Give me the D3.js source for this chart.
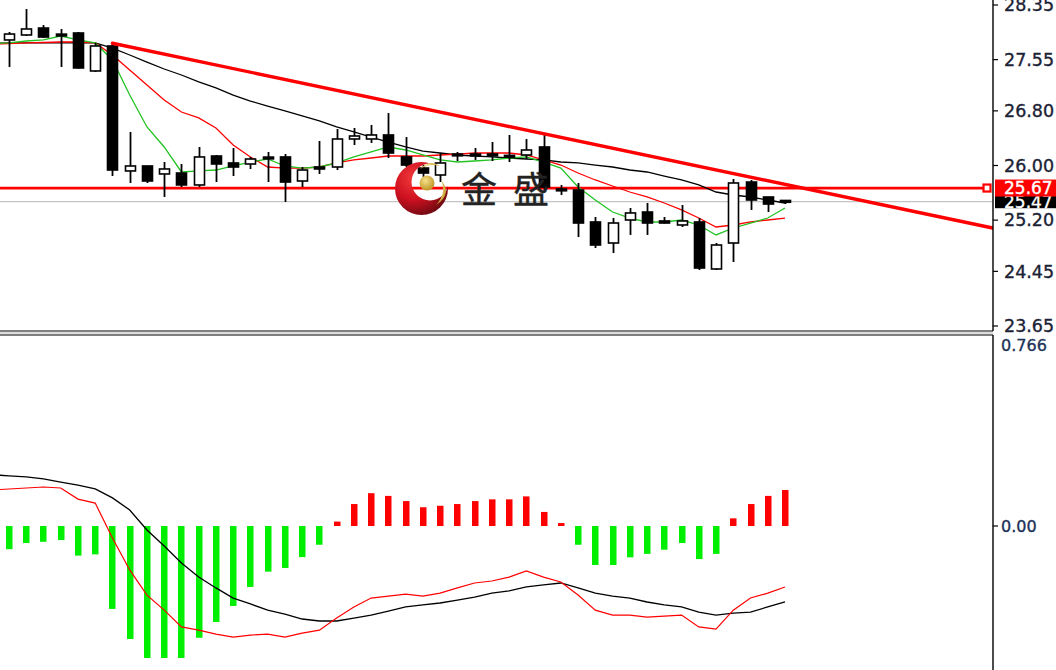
<!DOCTYPE html>
<html><head><meta charset="utf-8">
<script src="https://cdn.jsdelivr.net/npm/d3@7"></script>
<style>html,body{margin:0;padding:0;background:#fff;overflow:hidden}</style>
</head><body><svg id="c" width="1056" height="670"></svg>
<script>
// ---- DATA ----
const openP  = [27.838,27.911,28.013,27.918,27.940,27.384,27.750,25.920,25.993,25.876,25.890,25.715,26.139,26.037,26.022,26.115,26.125,25.773,25.978,25.978,26.388,26.388,26.447,26.125,25.963,25.861,26.160,26.160,26.160,26.140,26.154,26.271,25.645,25.641,25.173,24.865,25.202,25.319,25.188,25.129,25.173,24.485,24.865,25.758,25.539,25.480];
const highP  = [27.955,28.291,28.057,27.999,27.955,27.794,27.794,26.491,25.993,26.051,26.022,26.271,26.154,26.256,26.125,26.198,26.168,25.978,26.359,26.534,26.549,26.593,26.769,26.417,26.007,26.183,26.198,26.256,26.344,26.447,26.388,26.447,25.715,25.744,25.246,25.231,25.378,25.451,25.246,25.422,25.231,24.865,25.802,25.788,25.539,25.495];
const lowP   = [27.442,27.896,27.867,27.442,27.420,27.369,25.846,25.744,25.744,25.539,25.685,25.685,25.758,25.846,25.949,25.758,25.466,25.685,25.876,25.934,26.300,26.330,26.110,25.978,25.832,25.758,26.066,26.081,26.066,26.051,26.095,25.641,25.568,24.953,24.792,24.719,24.983,24.983,25.150,25.100,24.470,24.470,24.587,25.349,25.319,25.436];
const closeP = [27.925,27.999,27.881,27.903,27.428,27.750,25.934,25.993,25.773,25.949,25.715,26.125,26.022,25.978,26.095,26.105,25.758,25.934,25.949,26.388,26.432,26.447,26.183,26.007,25.890,26.037,26.150,26.150,26.150,26.130,26.227,25.685,25.641,25.158,24.836,25.158,25.305,25.158,25.158,25.188,24.499,24.836,25.744,25.495,25.436,25.470];

// moving averages: first value belongs to the bar just left of the window (index -1)
const maGreen = [27.79,27.794,27.823,27.838,27.896,27.838,27.794,27.545,27.032,26.564,26.271,25.905,25.920,25.934,25.993,26.051,26.095,25.993,25.963,25.978,26.037,26.125,26.198,26.271,26.227,26.154,26.081,26.051,26.066,26.081,26.110,26.125,26.051,25.963,25.685,25.495,25.319,25.231,25.173,25.173,25.202,25.129,24.983,25.085,25.158,25.231,25.378];
const maRed   = [27.78,27.786,27.794,27.801,27.808,27.808,27.794,27.618,27.398,27.179,26.959,26.783,26.696,26.549,26.300,26.125,25.978,25.963,25.963,25.978,26.037,26.081,26.110,26.139,26.139,26.139,26.154,26.168,26.183,26.183,26.183,26.154,26.081,26.007,25.890,25.788,25.700,25.612,25.539,25.451,25.349,25.231,25.100,25.129,25.173,25.202,25.231];
const maBlack = [27.79,27.794,27.794,27.794,27.794,27.794,27.794,27.720,27.618,27.515,27.413,27.325,27.223,27.135,27.032,26.944,26.871,26.798,26.725,26.652,26.564,26.491,26.417,26.344,26.271,26.212,26.183,26.154,26.139,26.125,26.110,26.095,26.081,26.051,26.037,26.007,25.978,25.934,25.905,25.846,25.788,25.715,25.612,25.568,25.539,25.495,25.451];

const macdHist = [-0.094,-0.069,-0.064,-0.057,-0.120,-0.115,-0.336,-0.458,-0.535,-0.535,-0.535,-0.453,-0.389,-0.324,-0.247,-0.185,-0.170,-0.126,-0.076,0.018,0.089,0.133,0.122,0.101,0.076,0.082,0.089,0.101,0.108,0.108,0.120,0.057,0.012,-0.076,-0.158,-0.158,-0.127,-0.113,-0.096,-0.069,-0.134,-0.113,0.031,0.089,0.122,0.146];
const macdBlack = [0.208,0.203,0.199,0.191,0.178,0.166,0.150,0.114,0.065,-0.016,-0.081,-0.150,-0.207,-0.251,-0.292,-0.316,-0.341,-0.357,-0.377,-0.385,-0.385,-0.373,-0.361,-0.345,-0.328,-0.320,-0.312,-0.300,-0.288,-0.272,-0.263,-0.247,-0.239,-0.231,-0.251,-0.272,-0.284,-0.292,-0.308,-0.320,-0.328,-0.349,-0.361,-0.353,-0.349,-0.328,-0.308];
const macdRed   = [0.146,0.150,0.154,0.158,0.154,0.109,0.093,-0.049,-0.178,-0.280,-0.341,-0.409,-0.422,-0.438,-0.450,-0.442,-0.438,-0.450,-0.434,-0.422,-0.373,-0.328,-0.292,-0.284,-0.276,-0.284,-0.272,-0.251,-0.231,-0.223,-0.207,-0.182,-0.207,-0.227,-0.280,-0.341,-0.361,-0.361,-0.369,-0.365,-0.361,-0.409,-0.418,-0.341,-0.292,-0.272,-0.247];

const priceTicks = [28.35, 27.55, 26.80, 26.00, 25.20, 24.45, 23.65];
const priceTickLabels = ["28.35","27.55","26.80","26.00","25.20","24.45","23.65"];
const macdMaxLabel = "0.766";
const macdMax = 0.766;
const macdTicks = [0.00];
const macdTickLabels = ["0.00"];
const hLevel = 25.67, hLevelLabel = "25.67";
const bidLevel = 25.47, bidLabel = "25.47";
const trendPts = [{i:6, p:27.79}, {i:57.04, p:25.085}];
const watermark = "金盛";

// ---- LAYOUT ----
const svg = d3.select("#c");
const axisX = 993;
const mainTop = 0, mainBot = 331, subTop = 335, subBot = 670;
const x = d3.scaleLinear().domain([0, 45]).range([9, 785]);
const y = d3.scaleLinear().domain([23.65, 28.35]).range([326, 5]);
const ym = d3.scaleLinear().domain([0, macdMax]).range([526, 337]);

svg.append("rect").attr("width",1056).attr("height",670).attr("fill","#fff");

const defs = svg.append("defs");
defs.append("clipPath").attr("id","mainClip").append("rect").attr("x",0).attr("y",mainTop).attr("width",axisX).attr("height",mainBot-mainTop);
defs.append("clipPath").attr("id","subClip").append("rect").attr("x",0).attr("y",subTop+1).attr("width",axisX).attr("height",subBot-subTop);

const gMain = svg.append("g").attr("clip-path","url(#mainClip)");
const gSub = svg.append("g").attr("clip-path","url(#subClip)");

// bid line
gMain.append("line").attr("x1",0).attr("x2",axisX).attr("y1",y(bidLevel)).attr("y2",y(bidLevel))
  .attr("stroke","#c4c4c4").attr("stroke-width",1.2);
// horizontal level
gMain.append("line").attr("x1",0).attr("x2",983).attr("y1",y(hLevel)).attr("y2",y(hLevel))
  .attr("stroke","#ff0000").attr("stroke-width",2.8);

// MAs
const lineGen = d3.line().x((d,k)=>x(k-1)).y(d=>y(d));
[[maBlack,"#000"],[maRed,"#ff0000"],[maGreen,"#22c322"]].forEach(([arr,col])=>{
  gMain.append("path").attr("d",lineGen(arr)).attr("fill","none").attr("stroke",col).attr("stroke-width",1.3);
});

// candles
const bodyW = 10;
const candles = d3.range(openP.length).map(i=>({i,o:openP[i],h:highP[i],l:lowP[i],c:closeP[i]}));
const gc = gMain.append("g");
candles.forEach(d=>{
  const cx = Math.round(x(d.i))+0.5;
  gc.append("line").attr("x1",cx).attr("x2",cx).attr("y1",y(d.h)).attr("y2",y(d.l)).attr("stroke","#000").attr("stroke-width",1.8);
  const top = y(Math.max(d.o,d.c)), bot = y(Math.min(d.o,d.c));
  const hgt = Math.max(bot-top, 1.8);
  const up = d.c >= d.o;
  gc.append("rect").attr("x",cx-bodyW/2).attr("y",hgt===1.8 ? (top+bot)/2-0.9 : top).attr("width",bodyW).attr("height",hgt)
    .attr("fill", up ? "#fff" : "#000").attr("stroke","#000").attr("stroke-width",1.6);
});

// trendline
gMain.append("line").attr("x1",x(trendPts[0].i)).attr("y1",y(trendPts[0].p))
  .attr("x2",x(trendPts[1].i)).attr("y2",y(trendPts[1].p))
  .attr("stroke","#ff0000").attr("stroke-width",3.4).attr("stroke-linecap","round");

// level marker square
gMain.append("rect").attr("x",983.5).attr("y",y(hLevel)-3.5).attr("width",7).attr("height",7)
  .attr("fill","#fff").attr("stroke","#ff0000").attr("stroke-width",2.2);

// watermark logo
const lg = defs.append("radialGradient").attr("id","lg").attr("cx","35%").attr("cy","30%").attr("r","75%");
lg.append("stop").attr("offset","0%").attr("stop-color","#f23a3a");
lg.append("stop").attr("offset","55%").attr("stop-color","#cc1020");
lg.append("stop").attr("offset","100%").attr("stop-color","#6e0a12");
const gg = defs.append("radialGradient").attr("id","gg").attr("cx","40%").attr("cy","35%").attr("r","70%");
gg.append("stop").attr("offset","0%").attr("stop-color","#f7e08a");
gg.append("stop").attr("offset","100%").attr("stop-color","#b8901e");
const mk = defs.append("mask").attr("id","cm");
mk.append("rect").attr("x",380).attr("y",150).attr("width",90).attr("height",80).attr("fill","#fff");
mk.append("circle").attr("cx",430).attr("cy",182).attr("r",18.5).attr("fill","#000");
const gl = svg.append("g");
gl.append("circle").attr("cx",421.5).attr("cy",188.5).attr("r",26.5).attr("fill","url(#lg)").attr("mask","url(#cm)");
gl.append("circle").attr("cx",427).attr("cy",183).attr("r",7.5).attr("fill","url(#gg)");
gl.append("path").attr("d","M441,180 Q453,194 436,205 Q447,193 441,180 Z").attr("fill","url(#gg)");
gl.append("path").attr("d","M420,169 Q430,159 440,166 Q430,163 420,169 Z").attr("fill","url(#gg)");
svg.append("text").attr("x",461).attr("y",203).attr("font-family","'Noto Sans CJK SC'").attr("font-size",36)
  .attr("letter-spacing",16).attr("fill","#222").attr("stroke","#222").attr("stroke-width",0.4).text(watermark);

// MACD histogram
gSub.selectAll("rect.h").data(macdHist).join("rect")
  .attr("x",(d,i)=>Math.round(x(i))-3).attr("width",6.5)
  .attr("y",d=>d>=0?ym(d):ym(0)).attr("height",d=>Math.max(Math.abs(ym(d)-ym(0)),2))
  .attr("fill",d=>d>=0?"#ff0000":"#00ee00");
const lineM = d3.line().x((d,k)=>x(k-1)).y(d=>ym(d));
gSub.append("path").attr("d",lineM(macdBlack)).attr("fill","none").attr("stroke","#000").attr("stroke-width",1.3);
gSub.append("path").attr("d",lineM(macdRed)).attr("fill","none").attr("stroke","#ff0000").attr("stroke-width",1.2);

// window borders
svg.append("line").attr("x1",0).attr("x2",axisX).attr("y1",mainBot).attr("y2",mainBot).attr("stroke","#000").attr("stroke-width",1.2);
svg.append("line").attr("x1",0).attr("x2",axisX).attr("y1",333).attr("y2",333).attr("stroke","#bbb").attr("stroke-width",1);
svg.append("line").attr("x1",0).attr("x2",axisX).attr("y1",subTop).attr("y2",subTop).attr("stroke","#000").attr("stroke-width",1.2);
svg.append("line").attr("x1",axisX).attr("x2",axisX).attr("y1",0).attr("y2",mainBot).attr("stroke","#000").attr("stroke-width",1.4);
svg.append("line").attr("x1",axisX).attr("x2",axisX).attr("y1",subTop).attr("y2",subBot).attr("stroke","#000").attr("stroke-width",1.4);

// price axis
const font = "'DejaVu Sans', Verdana, sans-serif";
function label(xp, yp, txt, size, col){
  return svg.append("text").attr("x",xp).attr("y",yp).attr("dy","0.36em").attr("font-family",font).attr("font-size",size)
    .attr("fill",col).attr("stroke",col).attr("stroke-width",0.35).text(txt);
}
priceTicks.forEach((v,k)=>{
  svg.append("line").attr("x1",axisX).attr("x2",axisX+5).attr("y1",y(v)).attr("y2",y(v)).attr("stroke","#000").attr("stroke-width",1.2);
  label(1004, y(v), priceTickLabels[k], 17.5, "#1b2235");
});
// bid label (black) then level label (red)
svg.append("rect").attr("x",995).attr("y",y(bidLevel)-6).attr("width",61).attr("height",12.5).attr("fill","#000");
label(1004, y(bidLevel)+0.5, bidLabel, 17, "#fff");
svg.append("rect").attr("x",995).attr("y",y(hLevel)-8.5).attr("width",61).attr("height",17).attr("fill","#ff0000");
label(1004, y(hLevel), hLevelLabel, 17, "#fff");

// macd axis
label(1001, ym(macdMax)+8, macdMaxLabel, 16, "#1d3358");
macdTicks.forEach((v,k)=>{
  svg.append("line").attr("x1",axisX).attr("x2",axisX+5).attr("y1",ym(v)).attr("y2",ym(v)).attr("stroke","#000").attr("stroke-width",1.2);
  label(1001, ym(v), macdTickLabels[k], 16, "#1d3358");
});
</script></body></html>
